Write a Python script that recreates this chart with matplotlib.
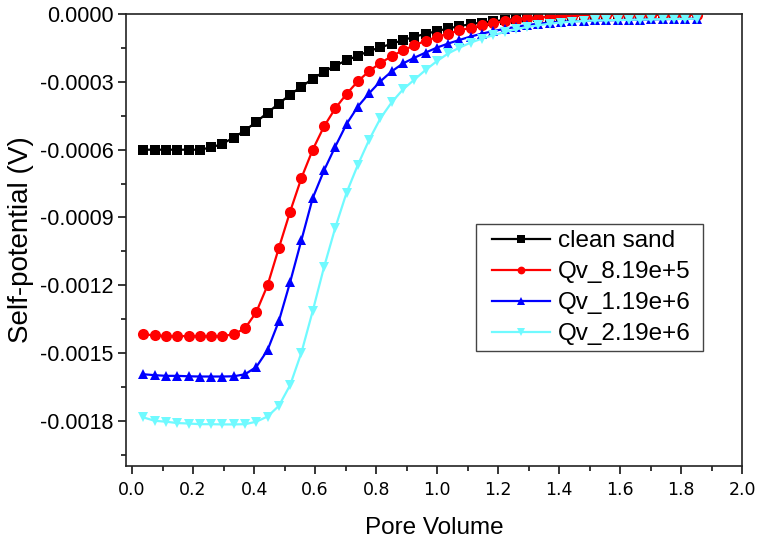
import numpy as np
import matplotlib
matplotlib.use("Agg")
import matplotlib.pyplot as plt
from matplotlib.patches import Rectangle
from matplotlib.ticker import MultipleLocator, FormatStrFormatter

# Pore volume sampling (50 steps of 0.037 PV)
pore_volume = [round(0.037 * k, 3) for k in range(1, 51)]

clean_sand = [
    -0.000600, -0.000600, -0.000600, -0.000600, -0.000600, -0.000600, -0.000590, -0.000574,
    -0.000546, -0.000515, -0.000477, -0.000436, -0.000396, -0.000356, -0.000321, -0.000286,
    -0.000255, -0.000228, -0.000204, -0.000184, -0.000163, -0.000147, -0.000131, -0.000115,
    -0.000100, -0.000087, -0.000075, -0.000063, -0.000053, -0.000044, -0.000037, -0.000031,
    -0.000026, -0.000021, -0.000017, -0.000014, -0.000011, -0.000009, -0.000007, -0.000006,
    -0.000005, -0.000004, -0.000004, -0.000003, -0.000003, -0.000002, -0.000002, -0.000002,
    -0.000001, -0.000001,
]

qv_819e5 = [
    -0.001417, -0.001422, -0.001425, -0.001425, -0.001425, -0.001425, -0.001425, -0.001425,
    -0.001417, -0.001391, -0.001319, -0.001200, -0.001035, -0.000874, -0.000725, -0.000600,
    -0.000497, -0.000417, -0.000353, -0.000297, -0.000252, -0.000216, -0.000186, -0.000160,
    -0.000138, -0.000118, -0.000101, -0.000086, -0.000072, -0.000060, -0.000049, -0.000040,
    -0.000032, -0.000025, -0.000019, -0.000015, -0.000011, -0.000009, -0.000007, -0.000006,
    -0.000005, -0.000004, -0.000004, -0.000003, -0.000003, -0.000003, -0.000002, -0.000002,
    -0.000002, -0.000002,
]

qv_119e6 = [
    -0.001594, -0.001598, -0.001601, -0.001601, -0.001603, -0.001604, -0.001604, -0.001604,
    -0.001603, -0.001594, -0.001562, -0.001487, -0.001359, -0.001186, -0.001000, -0.000814,
    -0.000692, -0.000586, -0.000486, -0.000409, -0.000350, -0.000297, -0.000253, -0.000218,
    -0.000193, -0.000170, -0.000148, -0.000130, -0.000114, -0.000099, -0.000086, -0.000075,
    -0.000065, -0.000056, -0.000048, -0.000042, -0.000037, -0.000033, -0.000031, -0.000030,
    -0.000028, -0.000027, -0.000026, -0.000025, -0.000024, -0.000023, -0.000022, -0.000021,
    -0.000021, -0.000020,
]

qv_219e6 = [
    -0.001785, -0.001800, -0.001804, -0.001810, -0.001812, -0.001815, -0.001815, -0.001816,
    -0.001816, -0.001815, -0.001804, -0.001781, -0.001734, -0.001642, -0.001498, -0.001314,
    -0.001120, -0.000945, -0.000790, -0.000667, -0.000556, -0.000461, -0.000390, -0.000333,
    -0.000290, -0.000247, -0.000208, -0.000174, -0.000148, -0.000126, -0.000108, -0.000093,
    -0.000079, -0.000067, -0.000057, -0.000049, -0.000042, -0.000037, -0.000033, -0.000030,
    -0.000028, -0.000027, -0.000026, -0.000025, -0.000024, -0.000023, -0.000022, -0.000021,
    -0.000021, -0.000020,
]

series_labels = ["clean sand", "Qv_8.19e+5", "Qv_1.19e+6", "Qv_2.19e+6"]
series_values = [clean_sand, qv_819e5, qv_119e6, qv_219e6]
series_colors = ["#000000", "#FF0000", "#0000FF", "#70FAFF"]
series_markers = ["s", "o", "^", "v"]
series_msize = [7.5, 8, 7.5, 7.5]

plt.rcParams["font.family"] = ["Liberation Sans", "DejaVu Sans"]

fig = plt.figure(figsize=(7.59, 5.45), dpi=100)
ax = fig.add_axes([0.166, 0.145, 0.812, 0.829])

for lab, vals, col, mk, ms in zip(series_labels, series_values, series_colors,
                                  series_markers, series_msize):
    ax.plot(pore_volume, vals, color=col, marker=mk, markersize=ms,
            linewidth=1.6, markeredgewidth=0, label=lab)

ax.set_xlim(-0.02, 2.0)
ax.set_ylim(-0.002, 0.0)

ax.xaxis.set_major_locator(MultipleLocator(0.2))
ax.xaxis.set_minor_locator(MultipleLocator(0.1))
ax.xaxis.set_major_formatter(FormatStrFormatter("%.1f"))
ax.yaxis.set_major_locator(MultipleLocator(0.0003))
ax.yaxis.set_minor_locator(MultipleLocator(0.00015))
ax.yaxis.set_major_formatter(FormatStrFormatter("%.4f"))

ax.tick_params(axis="both", which="major", direction="out", length=6, width=1.1,
               top=False, right=False)
ax.tick_params(axis="both", which="minor", direction="out", length=3.5, width=1.1,
               top=False, right=False)
ax.tick_params(axis="y", labelsize=15.5, pad=3)
ax.tick_params(axis="x", labelsize=12.5, pad=5)
for t in ax.get_xticklabels():
    t.set_fontfamily("DejaVu Sans")

for sp in ax.spines.values():
    sp.set_linewidth(1.2)
    sp.set_color("#222222")

ax.set_xlabel("Pore Volume", fontsize=17.5, labelpad=13)
ax.set_ylabel("Self-potential (V)", fontsize=20, labelpad=4)

# Legend entries without their own frame; a separate box is drawn around them
leg = ax.legend(loc="upper left", bbox_to_anchor=(0.594, 0.522), fontsize=17.5,
                frameon=False, handlelength=2.4, handletextpad=0.3,
                labelspacing=0.37, borderpad=0, borderaxespad=0, markerscale=0.7)
ax.add_patch(Rectangle((0.568, 0.254), 0.369, 0.281, transform=ax.transAxes,
                       fill=True, facecolor="white", edgecolor="#444444",
                       linewidth=1.0, zorder=4.5))
leg.set_zorder(5)

fig.savefig("out.png", dpi=100)
